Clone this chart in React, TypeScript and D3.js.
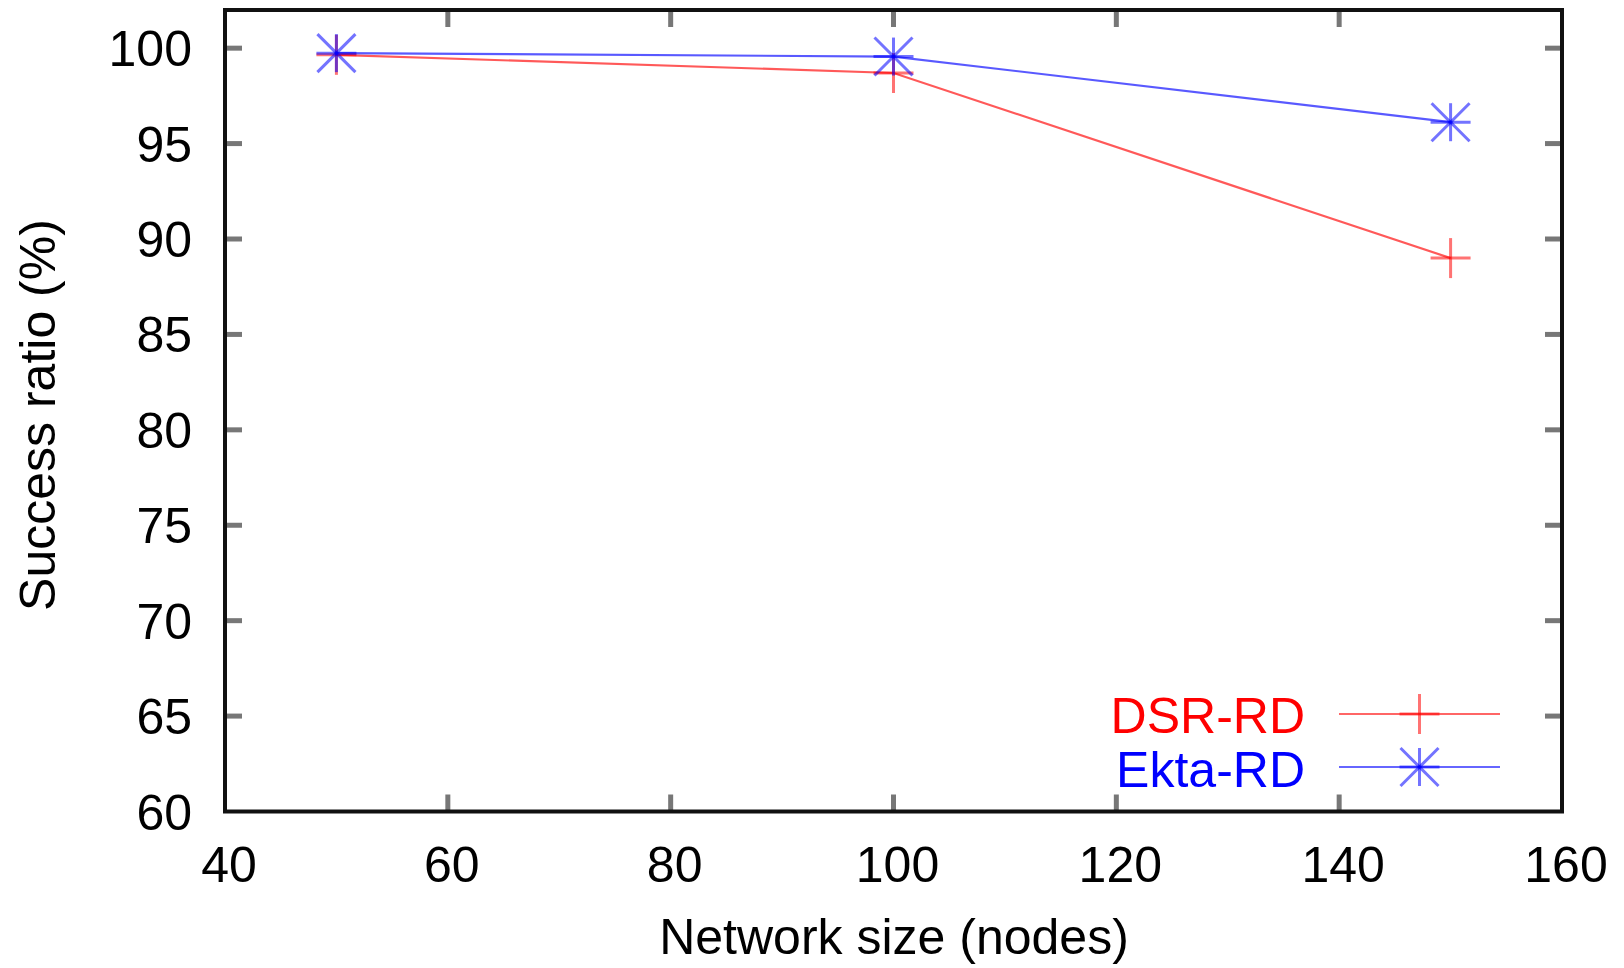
import React from "react";
import * as d3 from "d3";

const xValues = [50, 100, 150];
const dsrValues = [99.65, 98.7, 89.0];
const ektaValues = [99.74, 99.56, 96.12];
const xTicks = [40, 60, 80, 100, 120, 140, 160];
const yTicks = [60, 65, 70, 75, 80, 85, 90, 95, 100];
const seriesNames = ["DSR-RD", "Ekta-RD"];
const seriesColors = ["#ff0000", "#0000ff"];

const W = 1624;
const H = 968;
const L = 225, R = 1562, T = 10, B = 811.5;

export default function App() {
  const x = d3.scaleLinear().domain([40, 160]).range([L, R]);
  const y = d3.scaleLinear().domain([60, 102]).range([B, T]);
  const line = d3.line<[number, number]>().x((d) => x(d[0])).y((d) => y(d[1]));
  const dsr: [number, number][] = xValues.map((v, i) => [v, dsrValues[i]]);
  const ekta: [number, number][] = xValues.map((v, i) => [v, ektaValues[i]]);
  const font = "'Liberation Sans', Arial, Helvetica, sans-serif";
  const tickLen = 17;

  const plus = (cx: number, cy: number, color: string, key: string) => (
    <g key={key} stroke={color} strokeWidth={3} strokeOpacity={0.55}>
      <line x1={cx - 20} y1={cy} x2={cx + 20} y2={cy} />
      <line x1={cx} y1={cy - 20} x2={cx} y2={cy + 20} />
    </g>
  );
  const star = (cx: number, cy: number, color: string, key: string) => (
    <g key={key} stroke={color} strokeWidth={3} strokeOpacity={0.55}>
      <line x1={cx - 20} y1={cy} x2={cx + 20} y2={cy} />
      <line x1={cx} y1={cy - 19} x2={cx} y2={cy + 19} />
      <line x1={cx - 19} y1={cy - 19} x2={cx + 19} y2={cy + 19} />
      <line x1={cx - 19} y1={cy + 19} x2={cx + 19} y2={cy - 19} />
    </g>
  );

  return (
    <svg width={W} height={H} style={{ position: "absolute", left: 0, top: 0, background: "#fff" }} fontFamily={font}>
      {/* ticks */}
      <g stroke="#777" strokeWidth={5}>
        {yTicks.filter((t) => t > 60).map((t) => (
          <g key={"yt" + t}>
            <line x1={L} x2={L + tickLen} y1={y(t)} y2={y(t)} />
            <line x1={R - tickLen} x2={R} y1={y(t)} y2={y(t)} />
          </g>
        ))}
        {xTicks.filter((t) => t > 40 && t < 160).map((t) => (
          <g key={"xt" + t}>
            <line x1={x(t)} x2={x(t)} y1={B} y2={B - tickLen} />
            <line x1={x(t)} x2={x(t)} y1={T} y2={T + tickLen} />
          </g>
        ))}
      </g>
      <rect x={L} y={T} width={R - L} height={B - T} fill="none" stroke="#111" strokeWidth={4} />
      {/* tick labels */}
      {yTicks.map((t) => (
        <text key={"yl" + t} x={192} y={y(t) + 18} textAnchor="end" fontSize={50} fill="#000">{t}</text>
      ))}
      {xTicks.map((t) => (
        <text key={"xl" + t} x={x(t) + 4} y={882} textAnchor="middle" fontSize={50} fill="#000">{t}</text>
      ))}
      <text x={894} y={954} textAnchor="middle" fontSize={50} fill="#000">Network size (nodes)</text>
      <text transform={`translate(55,415) rotate(-90)`} textAnchor="middle" fontSize={50} fill="#000">Success ratio (%)</text>
      {/* series */}
      <path d={line(dsr) || ""} fill="none" stroke={seriesColors[0]} strokeWidth={2.2} strokeOpacity={0.65} />
      <path d={line(ekta) || ""} fill="none" stroke={seriesColors[1]} strokeWidth={2.2} strokeOpacity={0.65} />
      {dsr.map((d, i) => plus(x(d[0]), y(d[1]), seriesColors[0], "p" + i))}
      {ekta.map((d, i) => star(x(d[0]), y(d[1]), seriesColors[1], "s" + i))}
      {/* legend */}
      <text x={1305} y={733} textAnchor="end" fontSize={50} fill={seriesColors[0]}>{seriesNames[0]}</text>
      <line x1={1339} x2={1500} y1={714} y2={714} stroke={seriesColors[0]} strokeWidth={2.2} strokeOpacity={0.6} />
      {plus(1419.5, 714, seriesColors[0], "lp")}
      <text x={1305} y={787} textAnchor="end" fontSize={50} fill={seriesColors[1]}>{seriesNames[1]}</text>
      <line x1={1339} x2={1500} y1={767} y2={767} stroke={seriesColors[1]} strokeWidth={2.2} strokeOpacity={0.6} />
      {star(1419.5, 767, seriesColors[1], "ls")}
    </svg>
  );
}
